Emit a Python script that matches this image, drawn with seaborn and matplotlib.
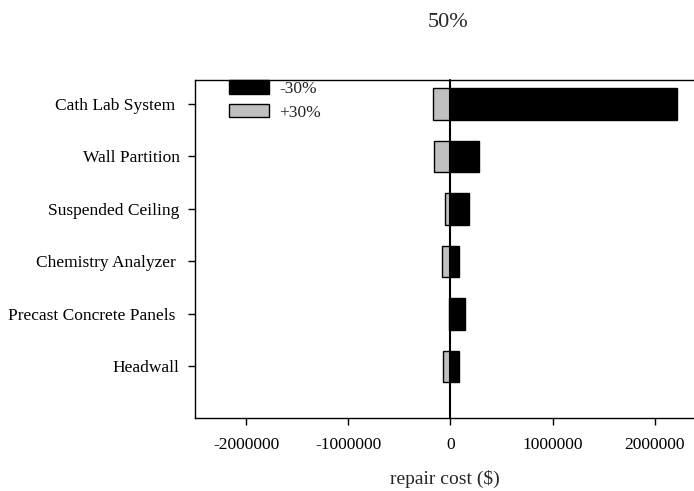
import pandas as pd
import numpy as np
import matplotlib
matplotlib.use('Agg')
import matplotlib.pyplot as plt
import seaborn as sns

# data
components = ['Cath Lab System ', 'Wall Partition', 'Suspended Ceiling',
              'Chemistry Analyzer ', 'Precast Concrete Panels ', 'Headwall']
minus30 = [2216000, 275000, 180000, 85000, 147000, 85000]
plus30 = [-174000, -157000, -49000, -82000, -17000, -72000]

sns.set_theme(style='white')
plt.rcParams['font.family'] = ['Liberation Serif', 'DejaVu Serif']

df = pd.DataFrame({
    'component': components * 2,
    'cost': minus30 + plus30,
    'scenario': ['-30%'] * len(components) + ['+30%'] * len(components),
})

fig = plt.figure(figsize=(6.94, 4.91), dpi=100)
ax = fig.add_axes([0.281, 0.149, 0.72, 0.688])

sns.barplot(data=df, y='component', x='cost', hue='scenario', order=components,
            hue_order=['-30%', '+30%'], dodge=False, orient='h', width=0.6,
            palette={'-30%': 'black', '+30%': '#c0c0c0'},
            edgecolor='black', linewidth=1.0, ax=ax)

ax.axvline(0, color='black', lw=1.5, zorder=5, clip_on=False)

ax.set_xlim(-2500000, 2390000)
ax.set_ylim(5.98, -0.457)
ax.set_xticks([-2000000, -1000000, 0, 1000000, 2000000])
ax.set_xticklabels(['-2000000', '-1000000', '0', '1000000', '2000000'])
ax.tick_params(axis='both', which='both', direction='out', length=5, width=1,
               colors='black', labelsize=12.5, bottom=True, left=True)
ax.tick_params(axis='x', pad=9)
ax.tick_params(axis='y', pad=6)
ax.set_ylabel('')
ax.set_xlabel('repair cost ($)', fontsize=14, labelpad=12)
ax.spines['right'].set_visible(False)
for s in ['top', 'left', 'bottom']:
    ax.spines[s].set_color('black')
    ax.spines[s].set_linewidth(1.0)

fig.text(0.646, 0.955, '50%', ha='center', va='center', fontsize=16)

leg = ax.legend(loc='upper left', bbox_to_anchor=(0.036, 1.045), frameon=False,
                fontsize=12.5, handlelength=2.3, handleheight=0.8,
                labelspacing=0.4, handletextpad=0.6)

fig.savefig('out.png', dpi=100)
